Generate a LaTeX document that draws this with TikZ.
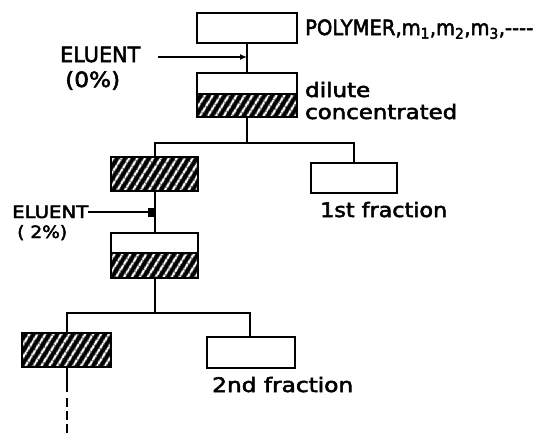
\documentclass[tikz,border=0pt]{standalone}
\usepackage{fontspec}
\setmainfont{DejaVu Sans}[FakeBold=2.5]
\usetikzlibrary{arrows.meta,patterns.meta}

% stretch a label to a given width, keeping its height
\newcommand{\fitw}[2]{\resizebox{#1}{\height}{#2}}

\tikzset{
  vessel/.style={draw, line width=2.4pt, fill=white, inner sep=0pt},
  phase/.style={draw, line width=2.8pt, inner sep=0pt,
    preaction={fill=black},
    pattern={Lines[angle=58,distance=7.4pt,line width=2.6pt]},
    pattern color=white},
  link/.style={line width=2pt},
  lbl/.style={anchor=base west, inner sep=0pt,
    font=\fontsize{20}{24}\selectfont},
  small lbl/.style={lbl, font=\fontsize{17}{20}\selectfont},
}

\begin{document}
\begin{tikzpicture}[x=1pt,y=-1pt]
\useasboundingbox (0,0) rectangle (535,434);

% vessels and phases
\node[vessel, minimum width=100pt, minimum height=30pt] (top) at (247,28) {};
\node[vessel, minimum width=100pt, minimum height=21pt] (d1u) at (247,83.5) {};
\node[phase,  minimum width=100pt, minimum height=23pt] (d1l) at (247,105.5) {};
\node[phase,  minimum width=87pt,  minimum height=34pt] (h1) at (154.5,174) {};
\node[vessel, minimum width=86pt,  minimum height=30pt] (f1) at (354,178) {};
\node[vessel, minimum width=87pt,  minimum height=20pt] (d2u) at (154.5,243) {};
\node[phase,  minimum width=87pt,  minimum height=25pt] (d2l) at (154.5,265.5) {};
\node[phase,  minimum width=89pt,  minimum height=34pt] (h2) at (66.5,350) {};
\node[vessel, minimum width=88pt,  minimum height=31pt] (f2) at (251,352.5) {};

% branch points and free ends
\coordinate (b1) at (247,143);
\coordinate (b2) at (154.5,313);
\coordinate (e1) at (158,57);
\coordinate (e2) at (88,212);
\coordinate (tailbreak) at (66.5,392);
\coordinate (tailgo) at (66.5,398);
\coordinate (tailend) at (66.5,434);

% connectors
\draw[link] (top.south) -- (d1u.north);
\draw[link] (d1l.south) -- (b1);
\draw[link] (b1) -| (h1.north);
\draw[link] (b1) -| (f1.north);
\draw[link] (h1.south) -- (d2u.north);
\draw[link] (d2l.south) -- (b2);
\draw[link] (b2) -| (h2.north);
\draw[link] (b2) -| ([xshift=-1pt]f2.north);
\draw[link] (h2.south) -- (tailbreak);
\draw[link, dash pattern=on 9pt off 4pt] (tailgo) -- (tailend);

% eluent feeds
\draw[link, -{Latex[length=7pt,width=6pt]}] (e1) -- (e1 -| top.south);
\draw[link, -{Square[length=7pt,width=9pt]}] (e2) -- (e2 -| h1.south);

% labels
\node[lbl, font=\fontsize{21}{24}\selectfont] (poly) at (305,35) {\fitw{228pt}{POLYMER,m\textsubscript{1},m\textsubscript{2},m\textsubscript{3},-{}-{}-{}-}};
\node[lbl] (dil) at (305,97) {\fitw{65pt}{dilute}};
\node[lbl] (con) at (305,119) {\fitw{152pt}{concentrated}};
\node[lbl, font=\fontsize{21}{24}\selectfont] (el1) at (60,62) {\fitw{80pt}{ELUENT}};
\node[lbl, font=\fontsize{21}{24}\selectfont] (pc1) at (65,87) {\fitw{55pt}{(0\%)}};
\node[small lbl] (el2) at (12,218) {\fitw{76pt}{ELUENT}};
\node[small lbl] (pc2) at (17,238) {\fitw{50pt}{( 2\%)}};
\node[lbl] (fr1) at (320,217) {\fitw{127pt}{1st fraction}};
\node[lbl] (fr2) at (212,392) {\fitw{141pt}{2nd fraction}};
\end{tikzpicture}
\end{document}
